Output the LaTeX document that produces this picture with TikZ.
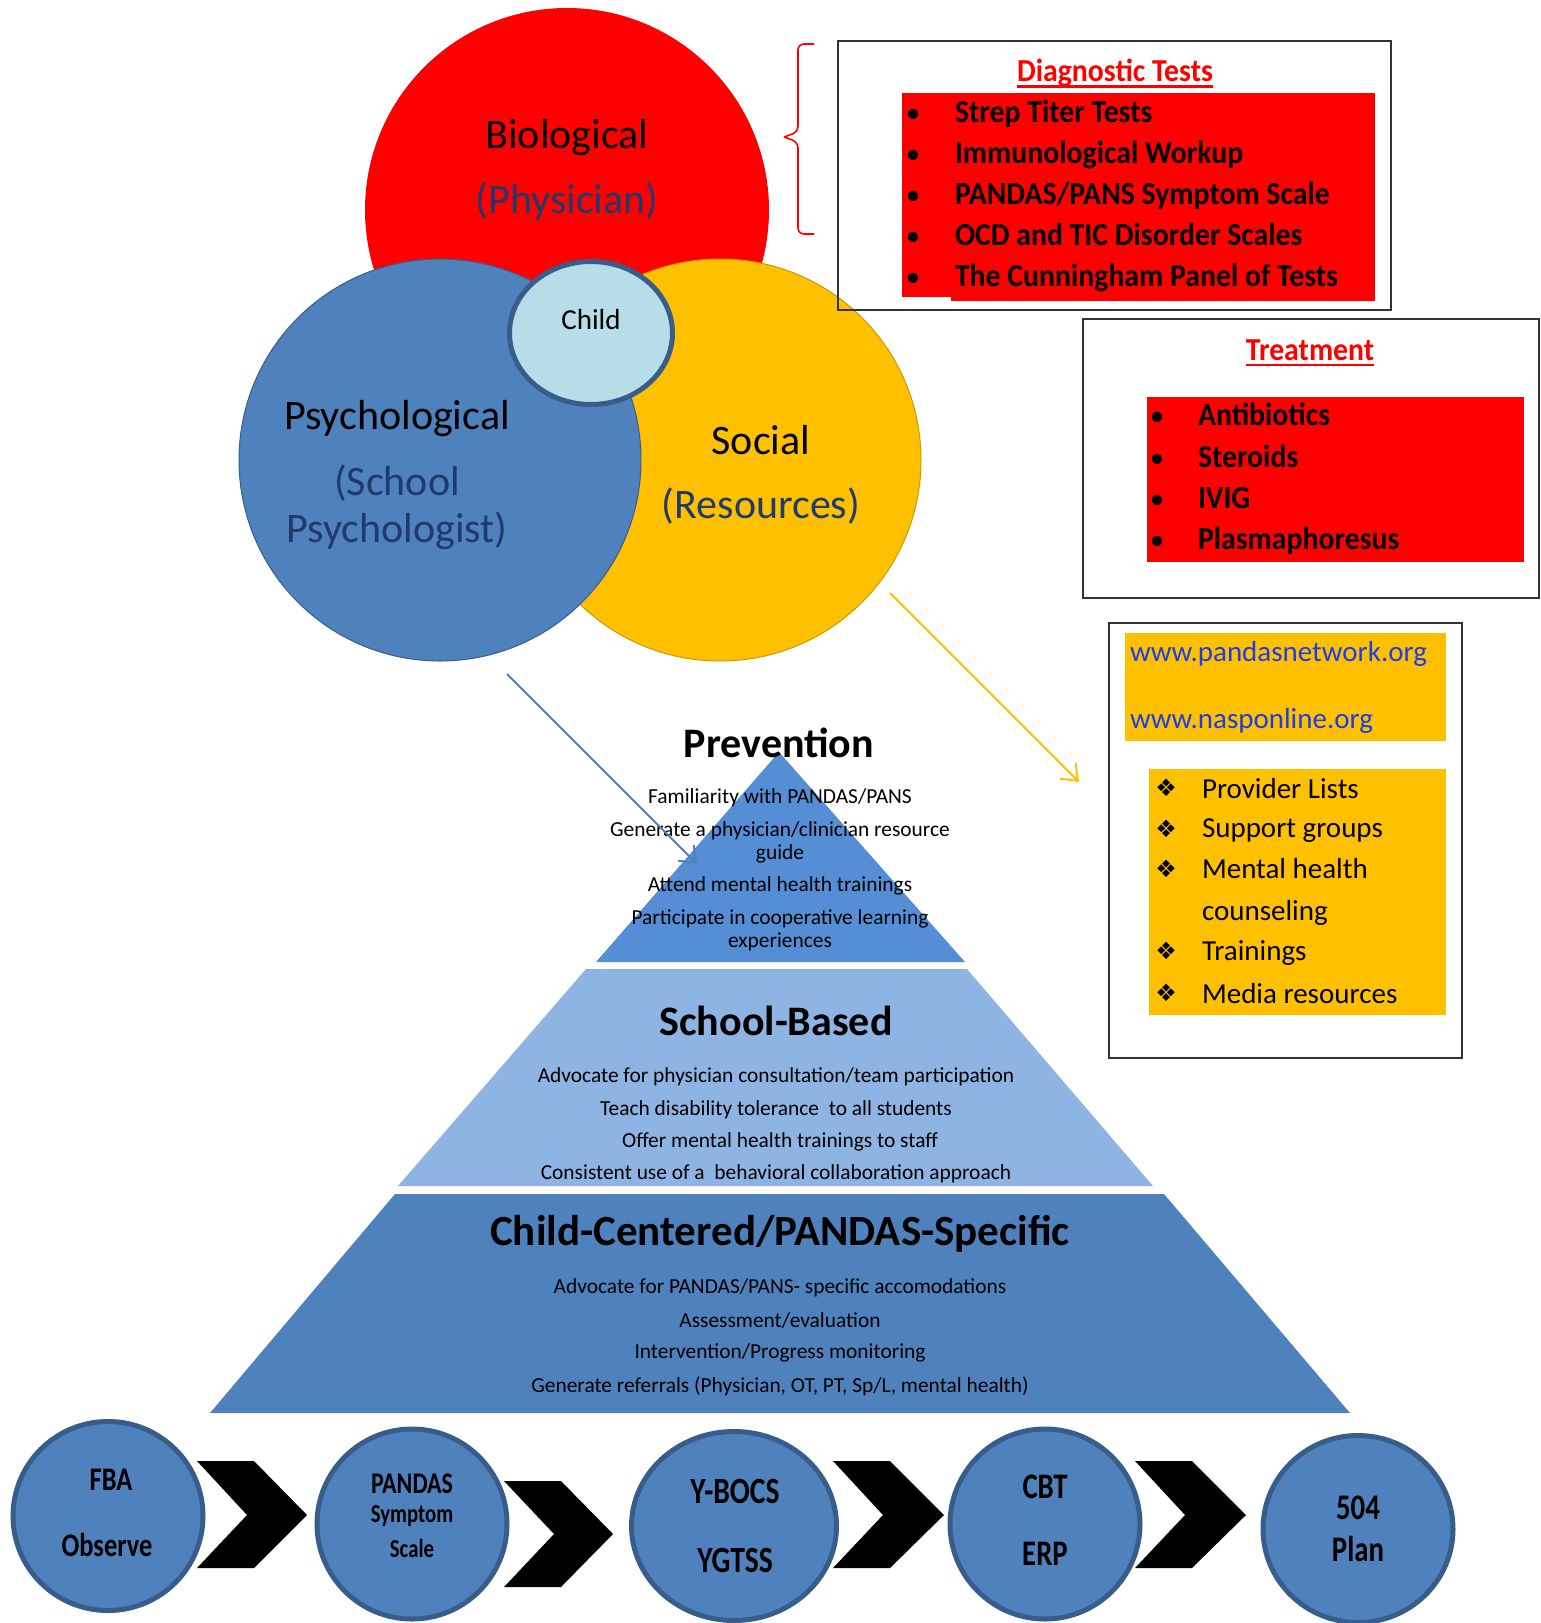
\documentclass[tikz,border=0pt]{standalone}
\usepackage{fontspec}
\setmainfont{Carlito}
\newfontfamily\dejavu{DejaVu Sans}
\usepackage{graphicx}
\usetikzlibrary{arrows.meta,calc,shapes.geometric}
\definecolor{bred}{HTML}{FF0000}
\definecolor{byel}{HTML}{FFC000}
\definecolor{cblue}{HTML}{4F81BD}
\definecolor{cborder}{HTML}{385D8A}
\definecolor{ptop}{HTML}{558ED5}
\definecolor{pmid}{HTML}{8EB4E3}
\definecolor{childc}{HTML}{B7DDE8}
\definecolor{navy}{HTML}{1F3A6E}
\definecolor{urlblue}{HTML}{1C3DEB}
\definecolor{boxgray}{HTML}{333333}
\newcommand{\cnd}[2]{\scalebox{#1}[1]{#2}}
\begin{document}
\begin{tikzpicture}[x=1pt,y=-1pt,
 t/.style={inner sep=0pt, outer sep=0pt},
 vbig/.style={t, font=\fontsize{42}{47}\selectfont},
 vsub/.style={vbig, text=navy, align=center},
 dhead/.style={t, text=bred, font=\bfseries\fontsize{32}{36}\selectfont},
 ditem/.style={t, anchor=base west, font=\bfseries\fontsize{32}{38}\selectfont},
 dbul/.style={t, anchor=base, font=\fontsize{29}{30}\selectfont},
 ritem/.style={t, anchor=west, font=\fontsize{29}{42}\selectfont, align=left},
 rbul/.style={t, font=\dejavu\fontsize{24}{26}\selectfont},
 url/.style={t, anchor=west, text=urlblue, font=\fontsize{29}{32}\selectfont},
 ptitle/.style={t, font=\bfseries\fontsize{42}{48}\selectfont},
 ptxt/.style={t, font=\fontsize{21.4}{23}\selectfont, align=center},
 ctxt/.style={t, font=\bfseries\fontsize{33}{36}\selectfont},
 bcirc/.style={ellipse, draw=cborder, line width=5pt, fill=cblue, inner sep=0pt},
 chev/.style={fill=black},
 boxline/.style={draw=boxgray, line width=2pt},
 conn/.style={line width=2pt, -{Straight Barb[length=14pt,width=22pt,line width=2pt]}}
]
\useasboundingbox[fill=white] (0,0) rectangle (1541,1623);

% ---------- Venn circles ----------
\fill[bred] (567,210) circle (202);
\draw[draw=byel!80!black, line width=1pt, fill=byel] (720,460) circle (201);
\draw[draw=cborder, line width=1pt, fill=cblue] (440,460) circle (201);
\node[ellipse, draw=cborder, line width=5pt, fill=childc, minimum width=163, minimum height=143, inner sep=0pt] (child) at (591,333) {};
\node[t, font=\fontsize{29}{30}\selectfont] (childlbl) at (591,320) {Child};

\node[vbig] (bio) at (567,138) {Biological};
\node[vsub] (phys) at (567,202) {(Physician)};
\node[vbig] (psy) at (397,419) {Psychological};
\node[vsub] (schp) at (397,507) {(School\\Psychologist)};
\node[vbig] (soc) at (761,440) {Social};
\node[vsub] (res) at (761,506) {(Resources)};

% ---------- brace ----------
\draw[bred, line width=1.6pt, rounded corners=6pt] (814,44) -- (798,44) -- (798,132) -- (784,137);
\draw[bred, line width=1.6pt, rounded corners=6pt] (784,137) -- (798,142) -- (798,234) -- (814,234);

% ---------- Diagnostic tests ----------
\draw[boxline] (838,41) rectangle (1391,310);
\fill[bred] (902,93) rectangle (1375,297);
\fill[bred] (951,290) rectangle (1375,301);
\node[dhead] (dt) at (1115,73) {\cnd{0.93}{Diagnostic Tests}};
\draw[bred, line width=2.4pt] ($(dt.base west)+(0,5)$) -- ($(dt.base east)+(0,5)$);
\foreach \y/\n/\txt in {122/d1/{Strep Titer Tests}, 163/d2/{Immunological Workup}, 204/d3/{PANDAS/PANS Symptom Scale}, 245/d4/{OCD and TIC Disorder Scales}, 286/d5/{The Cunningham Panel of Tests}}{
  \node[dbul] (\n b) at (913,\y) {•};
  \node[ditem] (\n) at (955,\y) {\cnd{0.93}{\txt}};
}

% ---------- Treatment ----------
\draw[boxline] (1083,319) rectangle (1539,598);
\fill[bred] (1147,397) rectangle (1524,562);
\node[dhead] (tr) at (1310,350) {\cnd{0.93}{Treatment}};
\draw[bred, line width=2.4pt] ($(tr.base west)+(0,5)$) -- ($(tr.base east)+(0,5)$);
\foreach \y/\n/\txt in {425/t1/{Antibiotics}, 467/t2/{Steroids}, 508/t3/{IVIG}, 549/t4/{Plasmaphoresus}}{
  \node[dbul] (\n b) at (1157,\y) {•};
  \node[ditem] (\n) at (1198,\y) {\cnd{0.93}{\txt}};
}

% ---------- Resources ----------
\draw[boxline] (1109,623) rectangle (1462,1058);
\fill[byel] (1125,633) rectangle (1446,741);
\fill[byel] (1149,769) rectangle (1446,1015);
\node[url] (u1) at (1130,654) {www.pandasnetwork.org};
\node[url] (u2) at (1130,721) {www.nasponline.org};
\node[rbul] (r1b) at (1166,788) {❖};
\node[ritem] (r1) at (1202,789) {Provider Lists};
\node[rbul] (r2b) at (1166,829) {❖};
\node[ritem] (r2) at (1202,831) {Support groups};
\node[rbul] (r3b) at (1166,869) {❖};
\node[ritem] (r3) at (1202,892) {Mental health\\counseling};
\node[rbul] (r4b) at (1166,951) {❖};
\node[ritem] (r4) at (1202,953) {Trainings};
\node[rbul] (r5b) at (1166,993) {❖};
\node[ritem] (r5) at (1202,994) {Media resources};

% ---------- Pyramid ----------
\fill[ptop] (779,752) -- (965,962) -- (596,962) -- cycle;
\fill[pmid] (586,969) -- (967,969) -- (1153,1186) -- (398,1186) -- cycle;
\fill[cblue] (395,1194) -- (1164,1194) -- (1350,1413) -- (210,1413) -- cycle;

\node[ptitle] (prev) at (779,743) {Prevention};
\node[ptxt] (p1) at (780,798) {Familiarity with PANDAS/PANS};
\node[ptxt] (p2) at (780,842) {Generate a physician/clinician resource\\guide};
\node[ptxt] (p3) at (780,886) {Attend mental health trainings};
\node[ptxt] (p4) at (780,930) {Participate in cooperative learning\\experiences};

\node[ptitle] (sb) at (776,1021) {School-Based};
\node[ptxt] (s1) at (776,1077) {Advocate for physician consultation/team participation};
\node[ptxt] (s2) at (776,1110) {Teach disability tolerance~ to all students};
\node[ptxt] (s3) at (780,1142) {Offer mental health trainings to staff};
\node[ptxt] (s4) at (776,1174) {Consistent use of a~ behavioral collaboration approach};

\node[ptitle, font=\bfseries\fontsize{43}{48}\selectfont] (cc) at (780,1234) {Child-Centered/PANDAS-Specific};
\node[ptxt] (c1) at (780,1288) {Advocate for PANDAS/PANS- specific accomodations};
\node[ptxt] (c2) at (780,1321) {Assessment/evaluation};
\node[ptxt] (c3) at (780,1353) {Intervention/Progress monitoring};
\node[ptxt] (c4) at (780,1386) {Generate referrals (Physician, OT, PT, Sp/L, mental health)};

% ---------- arrows ----------
\coordinate (ba1) at (507,674);
\coordinate (ba2) at (697,864);
\draw[conn, draw=cblue] (ba1) -- (ba2);
\coordinate (ya1) at (890,593);
\coordinate (ya2) at (1079,782);
\draw[conn, draw=byel] (ya1) -- (ya2);

% ---------- bottom circles ----------
\node[bcirc, minimum width=190, minimum height=189] (e1) at (108,1516) {};
\node[bcirc, minimum width=190, minimum height=190] (e2) at (412,1524) {};
\node[bcirc, minimum width=205, minimum height=189] (e3) at (734,1526) {};
\node[bcirc, minimum width=190, minimum height=190] (e4) at (1045,1524) {};
\node[bcirc, minimum width=190, minimum height=187] (e5) at (1358,1529) {};

\node[ctxt] (e1a) at (111,1480) {\cnd{0.8}{FBA}};
\node[ctxt] (e1b) at (107,1545) {\cnd{0.8}{Observe}};
\node[ctxt, font=\bfseries\fontsize{30}{32}\selectfont] (e2a) at (412,1484) {\cnd{0.8}{PANDAS}};
\node[ctxt, font=\bfseries\fontsize{26}{28}\selectfont] (e2b) at (412,1516) {\cnd{0.8}{Symptom}};
\node[ctxt, font=\bfseries\fontsize{26}{28}\selectfont] (e2c) at (412,1548) {\cnd{0.8}{Scale}};
\node[ctxt, font=\bfseries\fontsize{37}{40}\selectfont] (e3a) at (735,1491) {\cnd{0.8}{Y-BOCS}};
\node[ctxt, font=\bfseries\fontsize{37}{40}\selectfont] (e3b) at (735,1560) {\cnd{0.8}{YGTSS}};
\node[ctxt, font=\bfseries\fontsize{36}{40}\selectfont] (e4a) at (1045,1487) {\cnd{0.8}{CBT}};
\node[ctxt, font=\bfseries\fontsize{36}{40}\selectfont] (e4b) at (1045,1554) {\cnd{0.8}{ERP}};
\node[ctxt, font=\bfseries\fontsize{36}{40}\selectfont] (e5a) at (1358,1508) {\cnd{0.8}{504}};
\node[ctxt, font=\bfseries\fontsize{36}{40}\selectfont] (e5b) at (1358,1549) {\cnd{0.8}{Plan}};

% ---------- chevrons ----------
\fill[chev] (197,1461) -- (254,1461) -- (307,1515) -- (254,1568) -- (197,1568) -- (247,1515) -- cycle;
\fill[chev] (504,1481) -- (561,1481) -- (613,1534) -- (561,1587) -- (504,1587) -- (554,1534) -- cycle;
\fill[chev] (833,1461) -- (890,1461) -- (944,1515) -- (890,1568) -- (833,1568) -- (883,1515) -- cycle;
\fill[chev] (1135,1461) -- (1192,1461) -- (1246,1515) -- (1192,1568) -- (1135,1568) -- (1185,1515) -- cycle;
\end{tikzpicture}
\end{document}
